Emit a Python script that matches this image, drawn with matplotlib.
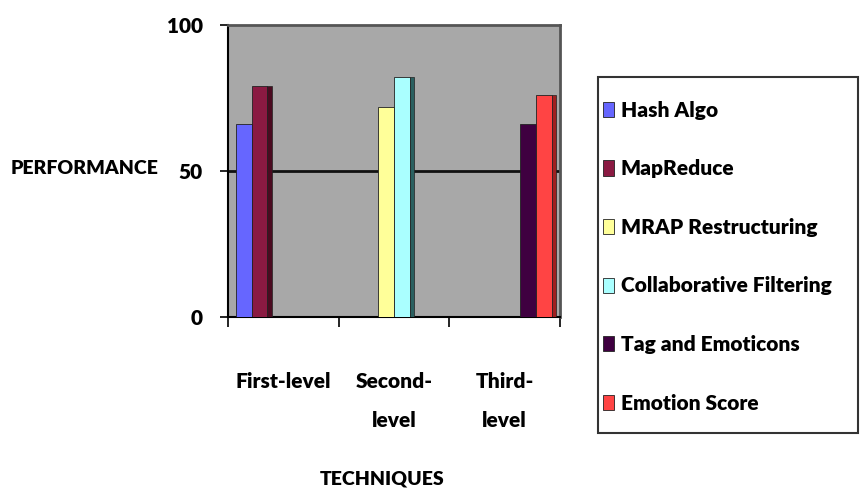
import matplotlib.pyplot as plt
from matplotlib.patches import Rectangle
import numpy as np

categories = ['First-level', 'Second-\nlevel', 'Third-\nlevel']
series = ['Hash Algo', 'MapReduce', 'MRAP Restructuring',
          'Collaborative Filtering', 'Tag and Emoticons', 'Emotion Score']
# one value per category, None where the series has no bar
values = [
    [66, None, None],
    [79, None, None],
    [None, 72, None],
    [None, 82, None],
    [None, None, 66],
    [None, None, 76],
]
colors = ['#6666ff', '#8a1a42', '#ffff99', '#aaffff', '#3f0040', '#ff4444']
sides = ['#3030a0', '#4a0a20', '#a0a060', '#2a6060', '#200020', '#a02020']

plt.rcParams['font.family'] = ['Lato', 'DejaVu Sans']
plt.rcParams['font.weight'] = 'heavy'
fig = plt.figure(figsize=(8.62, 4.96), dpi=100)
ax = fig.add_axes([0.2645, 0.361, 0.385, 0.589])
ax.set_facecolor('#a8a8a8')

x = np.arange(len(categories))
w = 0.143
for i, (name, vals) in enumerate(zip(series, values)):
    off = (i - 2.5) * w
    xs = [x[j] + off for j in range(3) if vals[j] is not None]
    hs = [v for v in vals if v is not None]
    ax.bar(xs, hs, width=w, color=colors[i], edgecolor='#222222',
           linewidth=0.6, label=name, zorder=3)
    # darker side face for a bit of depth
    ax.bar([p + w * 0.5 + 0.02 for p in xs], hs, width=0.04,
           color=sides[i], edgecolor='#222222', linewidth=0.5, zorder=3)

ax.axhline(50, color='#111111', lw=2, zorder=1)
ax.set_xlim(-0.5, 2.5)
ax.set_ylim(0, 100)
ax.set_yticks([0, 50, 100])
ax.set_xticks(x)
ax.set_xticklabels(categories, fontsize=15, linespacing=2.2)
ax.set_xticks([-0.5, 0.5, 1.5, 2.5], minor=True)
ax.tick_params(axis='x', which='major', length=0, pad=40)
ax.tick_params(axis='x', which='minor', length=7, width=1.2, direction='out')
ax.tick_params(axis='y', length=6, width=1.2, pad=12, labelsize=15)
for t in ax.get_xticklabels():
    t.set_va('top')
for s in ['top', 'right']:
    ax.spines[s].set_color('#555555')
    ax.spines[s].set_linewidth(2)
ax.spines['left'].set_linewidth(1.5)
ax.spines['bottom'].set_linewidth(1.5)

fig.text(0.012, 0.66, 'PERFORMANCE', fontsize=14, va='center', ha='left')
fig.text(0.443, 0.035, 'TECHNIQUES', fontsize=14, va='center', ha='center')

# legend box drawn separately so the inner padding can be uneven
fig.patches.append(Rectangle((0.694, 0.127), 0.3016, 0.718,
                             transform=fig.transFigure, facecolor='white',
                             edgecolor='#333333', linewidth=1.5, zorder=0))
leg = fig.legend(loc='upper left', bbox_to_anchor=(0.6995, 0.797),
                 prop={'weight': 'heavy', 'size': 15},
                 handlelength=0.55, handleheight=0.75, handletextpad=0.3,
                 labelspacing=1.9, borderpad=0, borderaxespad=0,
                 frameon=False)
for h in leg.legend_handles:
    h.set_linewidth(0.6)

fig.savefig('out.png', dpi=100)
